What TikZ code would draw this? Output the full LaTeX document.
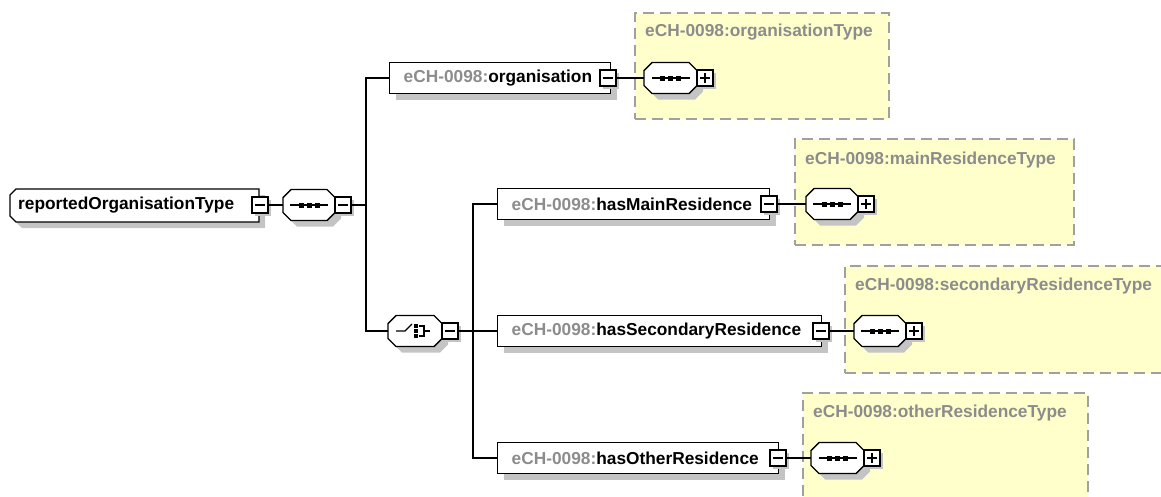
\documentclass[tikz,border=0pt]{standalone}
\usepackage{fontspec}
\setmainfont{Liberation Sans}
\usetikzlibrary{shadows}
\definecolor{typefill}{HTML}{FFFFCC}
\definecolor{dashc}{HTML}{A0A0A0}
\definecolor{prefixc}{HTML}{8C8C8C}
\definecolor{shadowc}{HTML}{C4C4C4}
\newcommand{\pfx}{\textcolor{prefixc}{eCH-0098:}}
% octagon outline: centre x, centre y, width
\newcommand{\octshape}[3]{({#1-#3/2+8},{#2-15.5}) -- ({#1+#3/2-8},{#2-15.5}) -- ({#1+#3/2},{#2-7.5}) -- ({#1+#3/2},{#2+7.5}) -- ({#1+#3/2-8},{#2+15.5}) -- ({#1-#3/2+8},{#2+15.5}) -- ({#1-#3/2},{#2+7.5}) -- ({#1-#3/2},{#2-7.5}) -- cycle}
% sequence compositor: name, cx, cy, width
\newcommand{\seqnode}[4]{%
  \fill[shadowc] \octshape{#2+6}{#3+6}{#4};
  \draw[line width=1.4pt, fill=white] \octshape{#2}{#3}{#4};
  \node[inner sep=0pt, minimum width=#4pt, minimum height=31pt] (#1) at (#2,#3) {};
  \draw[line width=1.1pt] ({#2-19},#3) -- ({#2+19},#3);
  \foreach \dx in {-8,0,8}{\fill ({#2+\dx-2.5},{#3-2.5}) rectangle ({#2+\dx+2.5},{#3+2.5});}%
}
% choice compositor: name, cx, cy, width
\newcommand{\choicenode}[4]{%
  \fill[shadowc] \octshape{#2+6}{#3+6}{#4};
  \draw[line width=1.4pt, fill=white] \octshape{#2}{#3}{#4};
  \node[inner sep=0pt, minimum width=#4pt, minimum height=31pt] (#1) at (#2,#3) {};
  \draw[line width=1.1pt] ({#2-19},#3) -- ({#2-10},#3) -- ({#2-3},{#3-7});
  \foreach \dy in {-5,0,5}{\fill ({#2+1-2},{#3+\dy-2}) rectangle ({#2+1+2},{#3+\dy+2});}%
  \draw[line width=1.1pt] ({#2+4},{#3-5}) -- ({#2+9},{#3-5}) -- ({#2+9},{#3+5}) -- ({#2+4},{#3+5});
  \draw[line width=1.1pt] ({#2+9},#3) -- ({#2+15},#3);
}
\begin{document}
\begin{tikzpicture}[x=1pt,y=-1pt,
  font=\fontsize{17.3}{20}\selectfont\bfseries,
  shadowed/.style={general shadow={shadow xshift=6pt, shadow yshift=-6pt, fill=shadowc, draw=none}},
  smallshadow/.style={general shadow={shadow xshift=3pt, shadow yshift=-3pt, fill=shadowc, draw=none}},
  elem/.style={draw, line width=1.4pt, fill=white, shadowed, minimum height=31pt,
    inner xsep=14pt, inner ysep=0pt, align=left, anchor=west},
  pm/.style={draw, line width=1.8pt, fill=white, smallshadow, minimum size=16pt, inner sep=0pt},
  minusbox/.style={pm, path picture={
    \draw[line width=1.3pt] ([xshift=-5pt]path picture bounding box.center) -- ([xshift=5pt]path picture bounding box.center);}},
  plusbox/.style={pm, path picture={
    \draw[line width=1.3pt] ([xshift=-5pt]path picture bounding box.center) -- ([xshift=5pt]path picture bounding box.center);
    \draw[line width=1.3pt] ([yshift=-5pt]path picture bounding box.center) -- ([yshift=5pt]path picture bounding box.center);}},
  typebox/.style={draw=dashc, fill=typefill, line width=1.5pt, dash pattern=on 11pt off 6pt,
    anchor=north west, inner sep=0pt},
  typetitle/.style={text=prefixc, anchor=west, inner sep=0pt},
  conn/.style={line width=1.3pt}
]
\useasboundingbox (0,0) rectangle (1161,496);
% type backgrounds
\node[typebox, minimum width=254pt, minimum height=106pt] (tOrg) at (634,12) {};
\node[typebox, minimum width=279pt, minimum height=106pt] (tMain) at (794,138) {};
\node[typebox, minimum width=320pt, minimum height=107pt] (tSec) at (844,265) {};
\node[typebox, minimum width=285pt, minimum height=120pt] (tOth) at (802,392) {};
\node[typetitle] (tOrgT) at (645,32) {eCH-0098:organisationType};
\node[typetitle] (tMainT) at (805,160) {eCH-0098:mainResidenceType};
\node[typetitle] (tSecT) at (855,286) {eCH-0098:secondaryResidenceType};
\node[typetitle] (tOthT) at (813,413) {eCH-0098:otherResidenceType};

% root (chamfered on the left)
\fill[shadowc] (22,195) -- (265,195) -- (265,228) -- (22,228) -- (16,222) -- (16,201) -- cycle;
\draw[line width=1.4pt, fill=white] (16,189) -- (259,189) -- (259,222) -- (16,222) -- (10,216) -- (10,195) -- cycle;
\node[inner xsep=8pt, inner ysep=0pt, anchor=west, minimum height=33pt] (root) at (10,205.5) {reportedOrganisationType};
\node[minusbox] (rootm) at (260,205) {};
\seqnode{rseq}{309}{205}{52}
\node[minusbox] (rseqm) at (343,205) {};
\coordinate (j1) at (366,205);

% organisation
\node[elem, text width=193pt] (org) at (389,78) {\pfx organisation};
\node[minusbox] (orgm) at (608,78) {};
\seqnode{oseq}{670.5}{78}{53}
\node[plusbox] (oseqp) at (705,78) {};

% choice
\choicenode{ch}{415}{331}{54}
\node[minusbox] (chm) at (450,331) {};
\coordinate (j2) at (473,331);

% hasMainResidence
\node[elem, text width=244pt] (main) at (497,204) {\pfx hasMainResidence};
\node[minusbox] (mainm) at (769,204) {};
\seqnode{mseq}{832}{204}{52}
\node[plusbox] (mseqp) at (866,204) {};

% hasSecondaryResidence
\node[elem, text width=296pt] (sec) at (497,331) {\pfx hasSecondaryResidence};
\node[minusbox] (secm) at (821,331) {};
\seqnode{sseq}{880}{331}{52}
\node[plusbox] (sseqp) at (914,331) {};

% hasOtherResidence
\node[elem, text width=253pt] (oth) at (497,458) {\pfx hasOtherResidence};
\node[minusbox] (othm) at (778,458) {};
\seqnode{otseq}{837.5}{458}{53}
\node[plusbox] (otseqp) at (872,458) {};

% connectors
\draw[conn] (rootm.east) -- (rseq.west);
\draw[conn] (rseqm.east) -- (j1);
\draw[conn] (j1) |- (org.west);
\draw[conn] (j1) |- (ch.west);
\draw[conn] (orgm.east) -- (oseq.west);
\draw[conn] (chm.east) -- (j2);
\draw[conn] (j2) |- (main.west);
\draw[conn] (j2) -- (sec.west);
\draw[conn] (j2) |- (oth.west);
\draw[conn] (mainm.east) -- (mseq.west);
\draw[conn] (secm.east) -- (sseq.west);
\draw[conn] (othm.east) -- (otseq.west);
\end{tikzpicture}
\end{document}
